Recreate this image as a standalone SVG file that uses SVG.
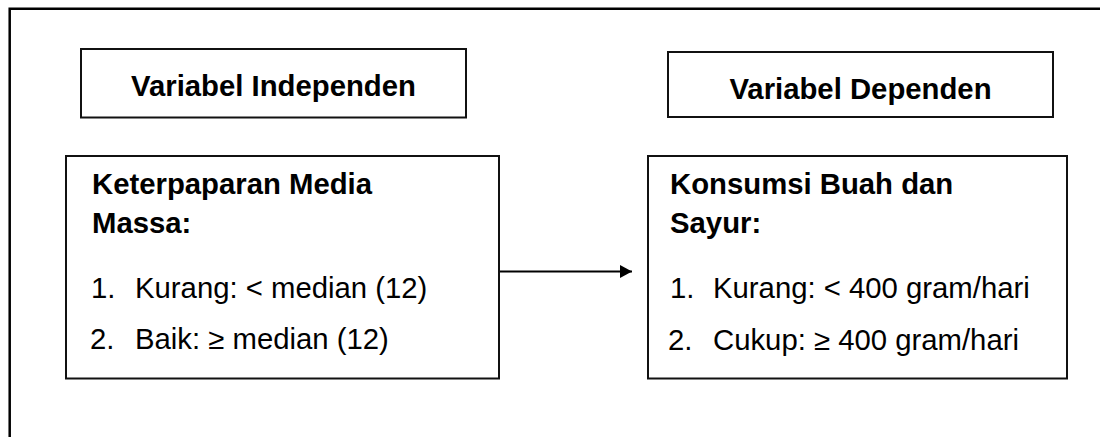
<svg xmlns="http://www.w3.org/2000/svg" width="1100" height="437" viewBox="0 0 1100 437">
<style>
.frame{fill:none;stroke:#000;stroke-width:2.5}
.box{fill:#fff;stroke:#111;stroke-width:2}
.hdr{font-family:"Liberation Sans",Arial,sans-serif;font-weight:bold;font-size:29.3px;fill:#000}
.t{font-family:"Liberation Sans",Arial,sans-serif;font-size:29.3px;fill:#000}
.b{font-family:"Liberation Sans",Arial,sans-serif;font-weight:bold;font-size:29.3px;fill:#000}
.conn{stroke:#000;stroke-width:2;fill:none}
</style>
<defs>
<marker id="ah" markerWidth="12" markerHeight="13" refX="12" refY="6.5" orient="auto" markerUnits="userSpaceOnUse">
<path d="M0,0 L12,6.5 L0,13 Z" fill="#000"/>
</marker>
</defs>
<rect width="1100" height="437" fill="#fff"/>
<path class="frame" d="M9.7,437 L9.7,8.7 L1100,8.7"/>
<g id="hdr-independen">
<rect class="box" x="81" y="49" width="385" height="68.5"/>
<text class="hdr" x="273.5" y="96" text-anchor="middle">Variabel Independen</text>
</g>
<g id="hdr-dependen">
<rect class="box" x="668" y="52" width="385" height="65"/>
<text class="hdr" x="860.5" y="98.5" text-anchor="middle">Variabel Dependen</text>
</g>
<g id="node-media">
<rect class="box" x="66" y="156" width="433" height="222.5"/>
<text class="b" x="92" y="194">Keterpaparan Media</text>
<text class="b" x="92" y="233">Massa:</text>
<text class="t" x="91" y="298">1.</text>
<text class="t" x="135" y="298">Kurang: &lt; median (12)</text>
<text class="t" x="90" y="349">2.</text>
<text class="t" x="135" y="349">Baik: ≥ median (12)</text>
</g>
<g id="node-konsumsi">
<rect class="box" x="648" y="156" width="419" height="222.5"/>
<text class="b" x="670" y="194">Konsumsi Buah dan</text>
<text class="b" x="670" y="233">Sayur:</text>
<text class="t" x="670" y="298">1.</text>
<text class="t" x="713" y="298">Kurang: &lt; 400 gram/hari</text>
<text class="t" x="668" y="350">2.</text>
<text class="t" x="713" y="350">Cukup: ≥ 400 gram/hari</text>
</g>
<g id="connectors">
<line class="conn" x1="500" y1="271.5" x2="632" y2="271.5" marker-end="url(#ah)"/>
</g>
</svg>
